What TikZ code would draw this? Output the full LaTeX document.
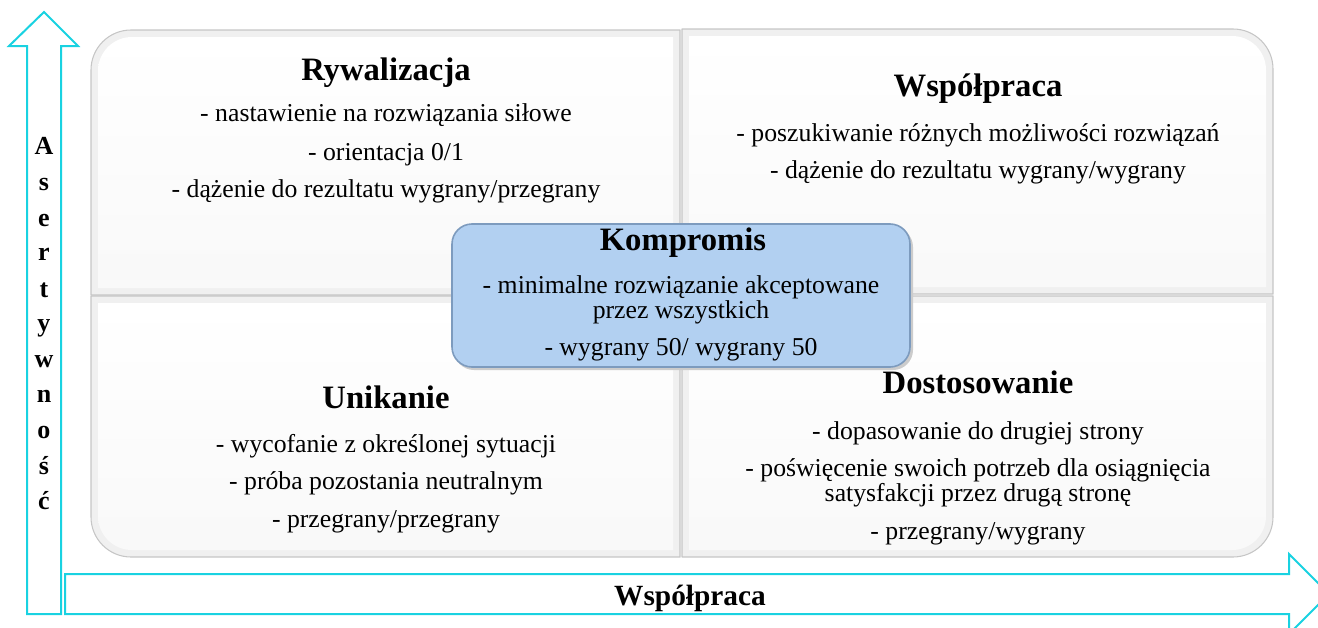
\documentclass[tikz,border=0pt]{standalone}
\usepackage{fontspec}
\setmainfont{Liberation Serif}
\definecolor{arrowc}{RGB}{25,210,225}
\definecolor{kompfill}{RGB}{178,208,241}
\definecolor{kompdraw}{RGB}{125,155,190}
\newcommand\rrpath[8]{({#1},{#2+#5}) .. controls ({#1},{#2+0.448*#5}) and ({#1+0.448*#5},{#2}) .. ({#1+#5},{#2}) -- ({#3-#6},{#2}) .. controls ({#3-0.448*#6},{#2}) and ({#3},{#2+0.448*#6}) .. ({#3},{#2+#6}) -- ({#3},{#4-#7}) .. controls ({#3},{#4-0.448*#7}) and ({#3-0.448*#7},{#4}) .. ({#3-#7},{#4}) -- ({#1+#8},{#4}) .. controls ({#1+0.448*#8},{#4}) and ({#1},{#4-0.448*#8}) .. ({#1},{#4-#8}) -- cycle}
\tikzset{
  quadout/.style={fill=gray!12, draw=gray!45, line width=0.8pt},
  quadin/.style={top color=white, bottom color=gray!5},
  arrowshape/.style={draw=arrowc, line width=1.5pt, fill=white, line join=miter},
  body/.style={font=\fontsize{19.3}{16.5}\selectfont, anchor=base, inner sep=0pt},
  bodytwo/.style={font=\fontsize{19.3}{16.5}\selectfont, anchor=center, inner sep=0pt, align=center},
  title/.style={font=\bfseries\fontsize{24.5}{28}\selectfont, anchor=base, inner sep=0pt},
  vlet/.style={font=\bfseries\fontsize{19.5}{20}\selectfont, anchor=base, inner sep=0pt},
  axis/.style={font=\bfseries\fontsize{22}{24}\selectfont, anchor=base, inner sep=0pt},
}
\begin{document}
\begin{tikzpicture}[x=0.75pt,y=-0.75pt]
\useasboundingbox (0,0) rectangle (1318,628);
\clip (0,0) rectangle (1318,628);
% quadrants
\path[quadout] \rrpath{91}{30}{680}{295}{40}{0.01}{0.01}{0.01};
\path[quadin] \rrpath{98}{37}{673}{288}{34}{0.01}{0.01}{0.01};
\path[quadout] \rrpath{682}{29}{1273}{294}{0.01}{40}{0.01}{0.01};
\path[quadin] \rrpath{689}{36}{1266}{287}{0.01}{34}{0.01}{0.01};
\path[quadout] \rrpath{91}{296}{680}{557}{0.01}{0.01}{0.01}{40};
\path[quadin] \rrpath{98}{303}{673}{550}{0.01}{0.01}{0.01}{34};
\path[quadout] \rrpath{682}{296}{1273}{557}{0.01}{0.01}{40}{0.01};
\path[quadin] \rrpath{689}{303}{1266}{550}{0.01}{0.01}{34}{0.01};
% arrows
\path[arrowshape] (27,614) -- (27,46) -- (9,46) -- (44,12) -- (78,46) -- (61,46) -- (61,614) -- cycle;
\path[arrowshape] (65,574) -- (1289,574) -- (1289,554) -- (1329,594) -- (1289,634) -- (1289,614) -- (65,614) -- cycle;
% vertical label
\node[vlet] (v1) at (44,154) {A};
\node[vlet] (v2) at (44,190) {s};
\node[vlet] (v3) at (44,226) {e};
\node[vlet] (v4) at (44,260) {r};
\node[vlet] (v5) at (44,297) {t};
\node[vlet] (v6) at (44,331) {y};
\node[vlet] (v7) at (44,367) {w};
\node[vlet] (v8) at (44,402) {n};
\node[vlet] (v9) at (44,438) {o};
\node[vlet] (v10) at (44,474) {ś};
\node[vlet] (v11) at (44,509) {ć};
\node[axis] (xaxis) at (690,605) {Współpraca};
% TL
\node[title] (rtitle) at (386,80) {Rywalizacja};
\node[body] (r1) at (386,121) {- nastawienie na rozwiązania siłowe};
\node[body] (r2) at (386,160) {- orientacja 0/1};
\node[body] (r3) at (386,197) {- dążenie do rezultatu wygrany/przegrany};
% TR
\node[title] (wtitle) at (978,96) {Współpraca};
\node[body] (w1) at (978,141) {- poszukiwanie różnych możliwości rozwiązań};
\node[body] (w2) at (978,178) {- dążenie do rezultatu wygrany/wygrany};
% BL
\node[title] (utitle) at (386,408) {Unikanie};
\node[body] (u1) at (386,452) {- wycofanie z określonej sytuacji};
\node[body] (u2) at (386,489) {- próba pozostania neutralnym};
\node[body] (u3) at (386,527) {- przegrany/przegrany};
% BR
\node[title] (dtitle) at (978,393) {Dostosowanie};
\node[body] (d1) at (978,439) {- dopasowanie do drugiej strony};
\node[bodytwo] (d2) at (978,483) {- poświęcenie swoich potrzeb dla osiągnięcia\\satysfakcji przez drugą stronę};
\node[body] (d4) at (978,539) {- przegrany/wygrany};
% center
\path[fill=gray!40] \rrpath{454}{227}{913}{370}{20}{20}{20}{20};
\path[fill=kompfill, draw=kompdraw, line width=1.2pt] \rrpath{452}{224}{910}{367}{20}{20}{20}{20};
\node[title] (ktitle) at (683,250) {Kompromis};
\node[bodytwo] (k1) at (681,300) {- minimalne rozwiązanie akceptowane\\przez wszystkich};
\node[body] (k3) at (681,355) {- wygrany 50/ wygrany 50};
\end{tikzpicture}
\end{document}
